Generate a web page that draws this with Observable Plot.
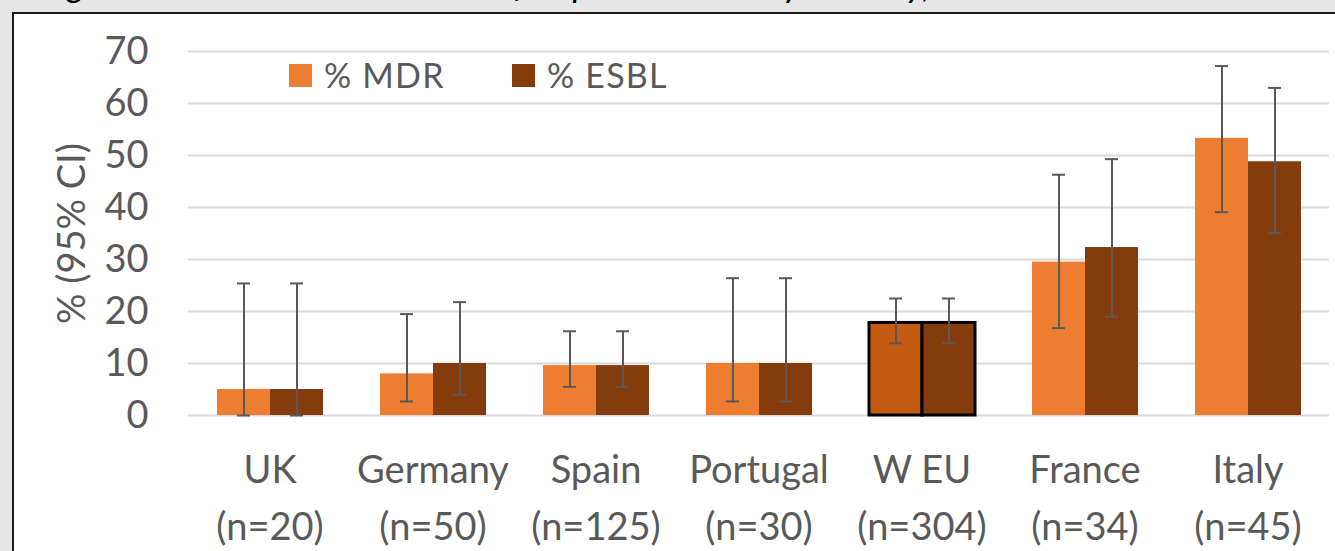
<!DOCTYPE html>
<html>
<head>
<meta charset="utf-8">
<script src="https://cdn.jsdelivr.net/npm/d3@7"></script>
<script src="https://cdn.jsdelivr.net/npm/@observablehq/plot@0.6"></script>
<style>
  html, body { margin: 0; padding: 0; }
  body { width: 1335px; height: 551px; overflow: hidden; background: #e7e6e6; position: relative; font-family: Lato, sans-serif; }
  #frame { position: absolute; left: 12px; top: 12px; width: 1400px; height: 600px; background: #fff; border: 2px solid #1a1a1a; box-sizing: border-box; }
  #title { position: absolute; left: 40px; top: -38px; font-family: Lato, sans-serif; font-size: 36px; font-style: italic; color: #000; white-space: nowrap; line-height: 43px; }
  #chart { position: absolute; left: 0; top: 0; }
  .lg { position: absolute; font-size: 34px; letter-spacing: 1.2px; color: #595959; line-height: 1; white-space: nowrap; }
  .sw { position: absolute; width: 23px; height: 23px; }
</style>
</head>
<body>
<div id="title">Figure 3. MDR and ESBL rates of K. pneumoniae by country, 2016</div>
<div id="frame"></div>
<div id="chart"></div>
<div class="sw" style="left:289px; top:64px; background:#ed7d31"></div>
<div class="lg" style="left:324px; top:58px">% MDR</div>
<div class="sw" style="left:512px; top:64px; background:#843c0c"></div>
<div class="lg" style="left:547px; top:58px">% ESBL</div>
<script>
const countries = ["UK", "Germany", "Spain", "Portugal", "W EU", "France", "Italy"];
const nLabels = ["(n=20)", "(n=50)", "(n=125)", "(n=30)", "(n=304)", "(n=34)", "(n=45)"];
const seriesNames = ["% MDR", "% ESBL"];
const mdr      = [5.0, 8.0, 9.6, 10.0, 17.8, 29.5, 53.3];
const mdrLow   = [0.0, 2.7, 5.5, 2.7, 13.9, 16.8, 39.1];
const mdrHigh  = [25.4, 19.5, 16.2, 26.4, 22.5, 46.3, 67.2];
const esbl     = [5.0, 10.0, 9.6, 10.0, 17.8, 32.3, 48.8];
const esblLow  = [0.0, 4.0, 5.5, 2.7, 13.9, 19.0, 35.1];
const esblHigh = [25.4, 21.8, 16.2, 26.4, 22.5, 49.3, 63.0];
const yTicks = [0, 10, 20, 30, 40, 50, 60, 70];

const rows = [];
countries.forEach((c, i) => {
  rows.push({country: c, series: seriesNames[0], value: mdr[i], lo: mdrLow[i], hi: mdrHigh[i]});
  rows.push({country: c, series: seriesNames[1], value: esbl[i], lo: esblLow[i], hi: esblHigh[i]});
});
const fillFn = d => d.country === "W EU"
  ? (d.series === seriesNames[0] ? "#c55a11" : "#843c0c")
  : (d.series === seriesNames[0] ? "#ed7d31" : "#843c0c");

const chart = Plot.plot({
  width: 1335,
  height: 551,
  marginLeft: 187,
  marginRight: 6,
  marginTop: 51,
  marginBottom: 136,
  style: {fontFamily: "Lato, sans-serif", fontSize: "38px", color: "#595959", background: "transparent", overflow: "visible"},
  fx: {domain: countries, padding: 0, label: null},
  x: {domain: seriesNames, paddingInner: 0, paddingOuter: 0.534, axis: null},
  y: {domain: [0, 70], ticks: yTicks, tickSize: 0, tickPadding: 40, label: "% (95% CI)", labelAnchor: "center", labelOffset: 130, labelArrow: "none"},
  marks: [
    Plot.gridY(yTicks, {stroke: "#d9d9d9", strokeOpacity: 1, strokeWidth: 2}),
    Plot.barY(rows, {fx: "country", x: "series", y: "value", fill: fillFn,
      stroke: d => d.country === "W EU" ? "#000" : "none", strokeWidth: 3}),
    Plot.ruleX(rows, {fx: "country", x: "series", y1: "lo", y2: "hi", stroke: "#595959", strokeWidth: 2}),
    Plot.tickY(rows, {fx: "country", x: "series", y: "lo", stroke: "#595959", strokeWidth: 2, insetLeft: 20, insetRight: 20}),
    Plot.tickY(rows, {fx: "country", x: "series", y: "hi", stroke: "#595959", strokeWidth: 2, insetLeft: 20, insetRight: 20}),
    Plot.axisFx({anchor: "bottom", tickFormat: d => d + "\n" + nLabels[countries.indexOf(d)],
      tickSize: 0, tickPadding: 26, lineHeight: 1.52, label: null, fontSize: 38})
  ]
});
document.getElementById("chart").appendChild(chart);
</script>
</body>
</html>
